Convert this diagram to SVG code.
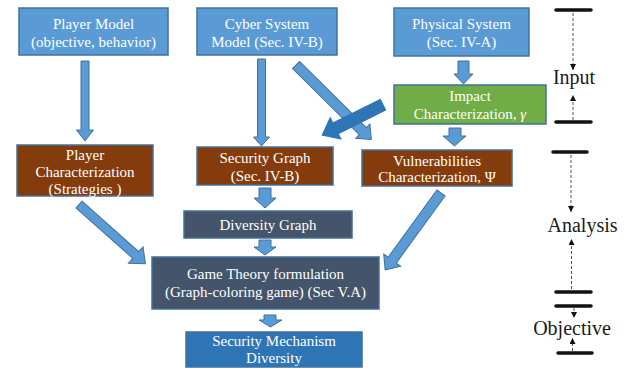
<svg xmlns="http://www.w3.org/2000/svg" width="638" height="368" viewBox="0 0 638 368">
<style>
.box{stroke:#41719c;stroke-width:1.5}
.blue{fill:#5b9bd5}
.brown{fill:#843c0c}
.slate{fill:#44546a}
.green{fill:#70ad47}
.dblue{fill:#2e75b6}
.t{font-family:"Liberation Serif","Times New Roman",serif;font-size:15px;fill:#ffffff;text-anchor:middle}
.lg{font-family:"Liberation Serif","Times New Roman",serif;font-size:20px;fill:#1a1a1a;text-anchor:middle}
.ar{fill:#5b9bd5;stroke:#41719c;stroke-width:1}
.ar2{fill:#2e75b6;stroke:#2e75b6;stroke-width:1}
.bar{stroke:#111;stroke-width:3.5;stroke-linecap:round}
.dash{stroke:#555;stroke-width:1;stroke-dasharray:3,2;fill:none}
</style>
<defs>
<marker id="tri" viewBox="0 0 6 6" refX="6" refY="3" markerWidth="6" markerHeight="6" markerUnits="userSpaceOnUse" orient="auto">
<path d="M0,0 L6,3 L0,6 z" fill="#111"/>
</marker>
</defs>
<rect width="638" height="368" fill="#ffffff"/>

<g id="connectors">
<polygon class="ar" points="81,61 89,61 89,130 93.5,130 85,141 76.5,130 81,130"/>
<polygon class="ar" points="257.5,59 265.5,59 265.5,137 269.5,137 261.5,146 253.5,137 257.5,137"/>
<polygon class="ar" points="458,61 469,61 469,74 473,74 463.5,84 454,74 458,74"/>
<polygon class="ar" points="449,128 461,128 461,136 466,136 454.5,146 443,136 449,136"/>
<polygon class="ar" points="259,188 271,188 271,198 276,198 265,208 254,198 259,198"/>
<polygon class="ar" points="259,240 271,240 271,247 276,247 265,255 254,247 259,247"/>
<polygon class="ar" points="264,315 276,315 276,320 282,320 270.5,327 259,320 264,320"/>
<polygon class="ar" transform="translate(79,204.5) rotate(41.7)" points="0,-4.5 76,-4.5 76,-11 89,0 76,11 76,4.5 0,4.5"/>
<polygon class="ar" transform="translate(296,65) rotate(44.7)" points="0,-5 94,-5 94,-10 106,0 94,10 94,5 0,5"/>
<polygon class="ar" transform="translate(441,193) rotate(126)" points="0,-5 83,-5 83,-10.5 95,0 83,10.5 83,5 0,5"/>
<polygon class="ar2" transform="translate(383,104.7) rotate(153.5)" points="0,-6 53,-6 53,-12 68,0 53,12 53,6 0,6"/>
</g>

<g id="player-model">
<rect class="box blue" x="19" y="8" width="149" height="47"/>
<text class="t" x="93.5" y="29">Player Model</text>
<text class="t" x="93.5" y="47">(objective, behavior)</text>
</g>
<g id="cyber-system">
<rect class="box blue" x="197" y="8" width="140" height="47"/>
<text class="t" x="267" y="29">Cyber System</text>
<text class="t" x="267" y="47">Model (Sec. IV-B)</text>
</g>
<g id="physical-system">
<rect class="box blue" x="394" y="8" width="135" height="48"/>
<text class="t" x="461.5" y="29">Physical System</text>
<text class="t" x="461.5" y="47">(Sec. IV-A)</text>
</g>
<g id="impact">
<rect class="box green" x="394" y="85" width="152" height="39"/>
<text class="t" x="470" y="101">Impact</text>
<text class="t" x="470" y="119">Characterization, <tspan font-style="italic">γ</tspan></text>
</g>
<g id="player-char">
<rect class="box brown" x="17" y="145" width="136" height="51"/>
<text class="t" x="85" y="160">Player</text>
<text class="t" x="85" y="177">Characterization</text>
<text class="t" x="85" y="194">(Strategies )</text>
</g>
<g id="security-graph">
<rect class="box brown" x="197" y="147" width="136" height="38"/>
<text class="t" x="265" y="163">Security Graph</text>
<text class="t" x="265" y="181">(Sec. IV-B)</text>
</g>
<g id="vulnerabilities">
<rect class="box brown" x="362" y="150" width="150" height="36"/>
<text class="t" x="437" y="166">Vulnerabilities</text>
<text class="t" x="437" y="182">Characterization, Ψ</text>
</g>
<g id="diversity-graph">
<rect class="box slate" x="184" y="211" width="168" height="27"/>
<text class="t" x="268" y="230">Diversity Graph</text>
</g>
<g id="game-theory">
<rect class="box slate" x="152" y="257" width="227" height="52"/>
<text class="t" x="265.5" y="279">Game Theory formulation</text>
<text class="t" x="265.5" y="297">(Graph-coloring game) (Sec V.A)</text>
</g>
<g id="security-mechanism">
<rect class="box dblue" x="186" y="332" width="176" height="35"/>
<text class="t" x="274" y="346">Security Mechanism</text>
<text class="t" x="274" y="363">Diversity</text>
</g>

<g id="legend">
<line class="bar" x1="556" y1="10" x2="591" y2="10"/>
<line class="bar" x1="556" y1="122" x2="591" y2="122"/>
<line class="dash" x1="573" y1="13" x2="573" y2="70" marker-end="url(#tri)"/>
<line class="dash" x1="573" y1="120" x2="573" y2="95" marker-end="url(#tri)"/>
<text class="lg" x="574" y="84">Input</text>
<line class="bar" x1="553" y1="152" x2="587" y2="152"/>
<line class="dash" x1="571" y1="155" x2="571" y2="212" marker-end="url(#tri)"/>
<text class="lg" x="582.5" y="232">Analysis</text>
<line class="dash" x1="571.5" y1="289" x2="571.5" y2="239" marker-end="url(#tri)"/>
<line class="bar" x1="556" y1="292" x2="591" y2="292"/>
<line class="bar" x1="556" y1="306" x2="591" y2="306"/>
<line class="dash" x1="574" y1="308" x2="574" y2="318" marker-end="url(#tri)"/>
<text class="lg" x="572" y="335">Objective</text>
<line class="dash" x1="572.5" y1="351" x2="572.5" y2="338" marker-end="url(#tri)"/>
<line class="bar" x1="558" y1="353" x2="592" y2="353"/>
</g>
</svg>
